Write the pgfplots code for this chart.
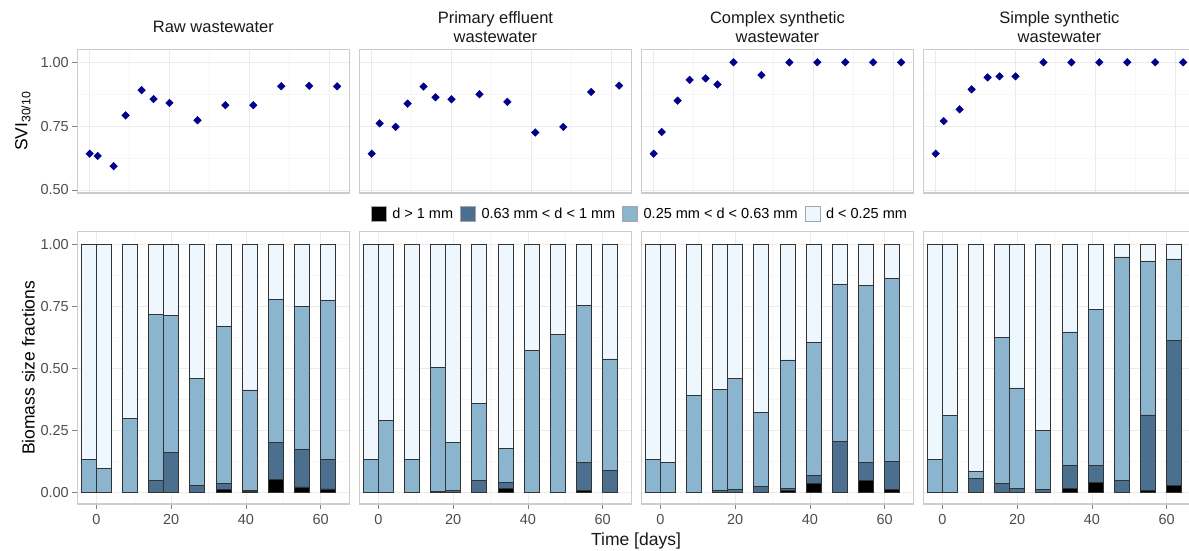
\documentclass[border=0pt]{standalone}
\usepackage{fontspec}
\setmainfont{Liberation Sans}
\usepackage{pgfplots}
\usepackage{pgfplotstable}
\pgfplotsset{compat=1.18}

\definecolor{ptblue}{HTML}{00008B}
\definecolor{fdark}{HTML}{4B6F8E}
\definecolor{fmed}{HTML}{8BB5CE}
\definecolor{flight}{HTML}{EEF6FE}
\definecolor{framec}{HTML}{CCCCCC}
\definecolor{gmaj}{HTML}{EBEBEB}
\definecolor{gmin}{HTML}{F6F6F6}
\definecolor{ticktxt}{HTML}{4D4D4D}

% size fractions per sampling day: b = d>1, d = 0.63-1, m = 0.25-0.63, l = <0.25
\pgfplotstableread{
x  b     d     m     l
-2 0     0     0.130 0.870
2  0     0     0.095 0.905
9  0     0     0.298 0.702
16 0     0.048 0.670 0.282
20 0     0.161 0.552 0.287
27 0     0.028 0.430 0.542
34 0.009 0.025 0.636 0.330
41 0.002 0.006 0.404 0.588
48 0.051 0.150 0.575 0.224
55 0.021 0.152 0.577 0.250
62 0.013 0.120 0.639 0.228
}\rawtab
\pgfplotstableread{
x  b     d     m     l
-2 0     0     0.130 0.870
2  0     0     0.289 0.711
9  0     0     0.133 0.867
16 0     0.004 0.497 0.499
20 0     0.007 0.194 0.799
27 0     0.046 0.312 0.642
34 0.016 0.023 0.138 0.823
41 0     0     0.570 0.430
48 0     0     0.636 0.364
55 0.007 0.114 0.631 0.248
62 0     0.089 0.448 0.463
}\primtab
\pgfplotstableread{
x  b     d     m     l
-2 0     0     0.130 0.870
2  0     0     0.119 0.881
9  0     0     0.391 0.609
16 0     0.005 0.410 0.585
20 0     0.009 0.451 0.540
27 0     0.023 0.298 0.679
34 0.007 0.009 0.517 0.467
41 0.036 0.032 0.535 0.397
48 0     0.203 0.633 0.164
55 0.047 0.074 0.713 0.166
62 0.012 0.113 0.738 0.137
}\comptab
\pgfplotstableread{
x  b     d     m     l
-2 0     0     0.130 0.870
2  0     0     0.309 0.691
9  0     0.056 0.027 0.917
16 0     0.034 0.590 0.376
20 0     0.016 0.404 0.580
27 0     0.009 0.239 0.752
34 0.016 0.093 0.537 0.354
41 0.039 0.067 0.632 0.262
48 0     0.046 0.902 0.052
55 0.008 0.303 0.621 0.068
62 0.027 0.585 0.328 0.060
}\simptab

\pgfplotsset{
  panel/.style={
    scale only axis, width=272.2pt,
    axis line style={framec, line width=1.1pt},
    grid=both,
    major grid style={gmaj, line width=0.7pt},
    minor grid style={gmin, line width=0.5pt},
    tick align=outside, xtick pos=bottom, ytick pos=left,
    major tick length=5pt, minor tick length=0pt,
    tick style={ticktxt!70, line width=0.7pt},
    tick label style={font=\fontsize{14.5}{17}\selectfont, text=ticktxt},
    /pgf/number format/assume math mode=true,
    xtick={0,20,40,60}, minor xtick={-10,10,30,50,70},
  },
  toprow/.style={panel, height=143.7pt,
    xmin=-3.1, xmax=65.1, ymin=0.488, ymax=1.051,
    ytick={0.5,0.75,1}, minor ytick={0.625,0.875},
    xticklabels={}, xtick style={draw=none},
    yticklabel style={/pgf/number format/.cd, fixed, fixed zerofill, precision=2},
    title style={font=\fontsize{16.5}{19}\selectfont, text=black!90, align=center,
      at={(0.5,1)}, anchor=center, yshift=16pt},
  },
  botrow/.style={panel, height=272.3pt,
    xmin=-5.1, xmax=67.7, ymin=-0.048, ymax=1.05,
    ytick={0,0.25,0.5,0.75,1}, minor ytick={0.125,0.375,0.625,0.875},
    yticklabel style={/pgf/number format/.cd, fixed, fixed zerofill, precision=2},
    xticklabel style={yshift=-2pt},
    ybar stacked, bar width=4,
  },
  noy/.style={yticklabels={}, ytick style={draw=none}},
  sq/.style={legend image code/.code={\draw[##1, draw=black!35, line width=0.4pt] (0pt,-7.5pt) rectangle (15pt,7.5pt);}},
  barb/.style={fill=black, draw=black!80, line width=0.75pt, sq},
  bard/.style={fill=fdark, draw=black!80, line width=0.75pt, sq},
  barm/.style={fill=fmed, draw=black!80, line width=0.75pt, sq},
  barl/.style={fill=flight, draw=black!80, line width=0.75pt, sq},
  pts/.style={only marks, mark=square*, mark size=2.7pt, mark options={rotate=45}, color=ptblue},
}

\begin{document}
\begin{tikzpicture}
\useasboundingbox (0pt,0pt) rectangle (1189pt,-551pt);

% ---- top row: SVI30/10
\begin{axis}[toprow, at={(77.3pt,-49.3pt)}, anchor=north west,
  title={Raw wastewater},
  ylabel={SVI\textsubscript{30/10}},
  ylabel style={font=\fontsize{17.5}{20}\selectfont, at={(axis description cs:-0.200,0.5)}, anchor=center}]
\addplot[pts] coordinates {(0,0.642) (2,0.633) (6,0.593) (9,0.792) (13,0.891) (16,0.856)
  (20,0.841) (27,0.773) (34,0.832) (41,0.832) (48,0.906) (55,0.908) (62,0.906)};
\end{axis}

\begin{axis}[toprow, noy, at={(359.3pt,-49.3pt)}, anchor=north west,
  title={Primary effluent\\wastewater}]
\addplot[pts] coordinates {(0,0.642) (2,0.761) (6,0.747) (9,0.838) (13,0.905) (16,0.863)
  (20,0.855) (27,0.875) (34,0.845) (41,0.725) (48,0.747) (55,0.884) (62,0.909)};
\end{axis}

\begin{axis}[toprow, noy, at={(641.3pt,-49.3pt)}, anchor=north west,
  title={Complex synthetic\\wastewater}]
\addplot[pts] coordinates {(0,0.642) (2,0.727) (6,0.850) (9,0.931) (13,0.937) (16,0.913)
  (20,1.0) (27,0.950) (34,1.0) (41,1.0) (48,1.0) (55,1.0) (62,1.0)};
\end{axis}

\begin{axis}[toprow, noy, at={(923.3pt,-49.3pt)}, anchor=north west,
  title={Simple synthetic\\wastewater}]
\addplot[pts] coordinates {(0,0.642) (2,0.770) (6,0.816) (9,0.894) (13,0.941) (16,0.945)
  (20,0.945) (27,1.0) (34,1.0) (41,1.0) (48,1.0) (55,1.0) (62,1.0)};
\end{axis}

% ---- bottom row: biomass size fractions
\begin{axis}[botrow, at={(77.3pt,-231.7pt)}, anchor=north west,
  ylabel={Biomass size fractions},
  ylabel style={font=\fontsize{17.5}{20}\selectfont, at={(axis description cs:-0.180,0.5)}, anchor=center},
  legend columns=4,
  legend style={at={(axis description cs:2.067,1.065)}, anchor=center, draw=none, fill=none,
    font=\fontsize{14.5}{17}\selectfont,
    /tikz/every odd column/.append style={column sep=4pt},
    /tikz/every even column/.append style={column sep=5pt}},
  legend cell align=left]
\addplot[barb] table[x=x, y=b] {\rawtab};
\addplot[bard] table[x=x, y=d] {\rawtab};
\addplot[barm] table[x=x, y=m] {\rawtab};
\addplot[barl] table[x=x, y=l] {\rawtab};
\legend{d > 1 mm, 0.63 mm < d < 1 mm, 0.25 mm < d < 0.63 mm, d < 0.25 mm}
\end{axis}

\begin{axis}[botrow, noy, at={(359.3pt,-231.7pt)}, anchor=north west]
\addplot[barb] table[x=x, y=b] {\primtab};
\addplot[bard] table[x=x, y=d] {\primtab};
\addplot[barm] table[x=x, y=m] {\primtab};
\addplot[barl] table[x=x, y=l] {\primtab};
\end{axis}

\begin{axis}[botrow, noy, at={(641.3pt,-231.7pt)}, anchor=north west]
\addplot[barb] table[x=x, y=b] {\comptab};
\addplot[bard] table[x=x, y=d] {\comptab};
\addplot[barm] table[x=x, y=m] {\comptab};
\addplot[barl] table[x=x, y=l] {\comptab};
\end{axis}

\begin{axis}[botrow, noy, at={(923.3pt,-231.7pt)}, anchor=north west]
\addplot[barb] table[x=x, y=b] {\simptab};
\addplot[bard] table[x=x, y=d] {\simptab};
\addplot[barm] table[x=x, y=m] {\simptab};
\addplot[barl] table[x=x, y=l] {\simptab};
\end{axis}

\node[font=\fontsize{17.5}{20}\selectfont, text=black!90] at (636pt,-541pt) {Time [days]};
\end{tikzpicture}
\end{document}
